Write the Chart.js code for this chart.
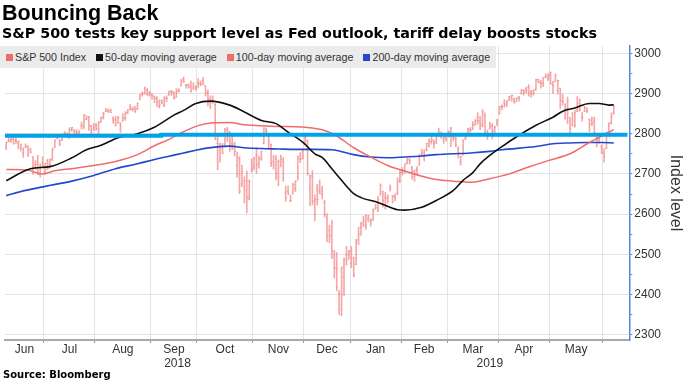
<!DOCTYPE html>
<html>
<head>
<meta charset="utf-8">
<script src="https://cdn.jsdelivr.net/npm/chart.js@4.4.1/dist/chart.umd.min.js"></script>
<style>
  html, body { margin: 0; padding: 0; background: #fff; }
  #wrap { position: relative; width: 683px; height: 384px; overflow: hidden; }
  #chart { position: absolute; left: 0; top: 0; }
  .title { position: absolute; left: 2px; top: 1px; font: bold 21.5px "Liberation Sans", sans-serif; color: #000; white-space: nowrap; }
  .sub { position: absolute; left: 2px; top: 25px; font: bold 14.3px "DejaVu Sans", sans-serif; color: #000; white-space: nowrap; }
  .src { position: absolute; left: 3px; top: 369px; font: bold 10px "DejaVu Sans", sans-serif; color: #000; white-space: nowrap; }
  #legend { position: absolute; left: 0; top: 46px; height: 22px; padding: 0 6px 0 6px; background: #ebebeb;
            display: flex; align-items: center; font: 10.7px "Liberation Sans", sans-serif; color: #333; }
  #legend .item { display: flex; align-items: center; margin-right: 10px; white-space: nowrap; }
  #legend .item:last-child { margin-right: 0; }
  #legend .sw { width: 7px; height: 7px; margin-right: 2px; }
</style>
</head>
<body>
<div id="wrap">
  <canvas id="chart" width="683" height="384"></canvas>
  <div class="title">Bouncing Back</div>
  <div class="sub">S&amp;P 500 tests key support level as Fed outlook, tariff delay boosts stocks</div>
  <div id="legend"></div>
  <div class="src">Source: Bloomberg</div>
</div>
<script>
// S&P 500 daily bars, 8 Jun 2018 .. 7 Jun 2019 (x = trading day number)
const spxOpen = [
  2765,2780,2785,2787,2783,2777,2765,2752,2769,2769,2760,2742,2723,2729,2698,2727,
  2705,2733,2724,2738,2765,2789,2779,2783,2797,2799,2789,2811,2809,2805,2799,2820,2817,2835,2843,2820,2809,
  2822,2801,2829,2840,2855,2856,2858,2838,2835,2827,2827,2831,2838,2853,2861,2860,2860,2862,2885,2901,2900,2908,2898,
  2897,2892,2888,2868,2882,2871,2888,2896,2906,2903,2891,2906,2919,2936,2921,2921,2917,2911,2910,
  2926,2924,2932,2919,2902,2877,2883,2873,2776,2775,2764,2767,2811,2802,2775,2774,2721,2737,2675,2667,2682,2640,2705,
  2718,2746,2726,2738,2775,2807,2795,2773,2731,2738,2693,2718,2731,2654,2657,2633,2650,2663,2692,2737,2737,
  2790,2782,2663,2692,2631,2664,2658,2658,2629,2591,2559,2548,2496,2465,2401,2364,2443,2499,2499,
  2477,2491,2475,2536,2568,2580,2573,2588,2581,2585,2614,2609,2651,2657,2643,2639,2658,2645,2644,2654,2685,
  2703,2706,2728,2735,2717,2693,2712,2722,2750,2744,2760,2770,2780,2781,2780,2805,2792,2787,2789,
  2798,2814,2794,2791,2763,2730,2747,2787,2800,2811,2810,2822,2840,2831,2819,2845,2796,2812,2820,2809,2828,
  2849,2868,2877,2874,2884,2889,2887,2881,2891,2901,2908,2912,2916,2904,2899,2910,2934,2928,2925,2941,2937,
  2952,2922,2929,2908,2913,2880,2859,2863,2840,2820,2820,2856,2858,2841,2855,2856,2836,2832,2830,2790,2786,2767,
  2752,2763,2819,2828,2852
];
const spxHigh = [
  2779,2790,2789,2791,2789,2782,2774,2765,2775,2770,2764,2743,2733,2746,2725,2743,
  2727,2737,2737,2764,2785,2795,2786,2799,2805,2802,2815,2816,2810,2810,2808,2829,2848,2845,2843,2821,2825,
  2825,2830,2841,2853,2863,2862,2862,2842,2843,2843,2827,2850,2855,2860,2873,2867,2868,2876,2898,2904,2916,2912,2906,
  2900,2894,2893,2884,2884,2892,2894,2906,2908,2904,2912,2912,2935,2941,2923,2924,2931,2927,2920,
  2937,2931,2940,2919,2909,2894,2894,2875,2795,2776,2776,2813,2816,2806,2797,2779,2754,2743,2722,2693,2707,2685,2737,
  2741,2766,2744,2757,2815,2814,2795,2775,2746,2746,2735,2747,2741,2670,2670,2647,2677,2683,2744,2753,2760,
  2800,2785,2697,2708,2648,2674,2685,2670,2635,2601,2573,2585,2510,2505,2410,2468,2490,2520,2510,
  2519,2493,2538,2567,2580,2595,2598,2597,2589,2613,2625,2645,2675,2657,2654,2648,2673,2647,2651,2690,2708,
  2716,2725,2738,2738,2719,2709,2718,2749,2761,2760,2776,2787,2794,2785,2793,2814,2804,2795,2793,
  2808,2816,2796,2791,2767,2744,2784,2798,2813,2816,2830,2835,2852,2843,2860,2852,2809,2829,2825,2819,2836,
  2868,2872,2885,2882,2893,2896,2888,2889,2893,2910,2909,2916,2922,2908,2909,2936,2936,2933,2940,2949,2949,
  2954,2931,2948,2933,2913,2898,2875,2891,2840,2853,2858,2892,2886,2853,2868,2865,2836,2841,2841,2791,2799,2772,
  2763,2804,2827,2852,2871
];
const spxLow = [
  2760,2780,2778,2774,2776,2762,2757,2741,2765,2743,2752,2699,2711,2698,2692,2718,
  2699,2711,2715,2733,2765,2787,2770,2783,2793,2794,2788,2806,2796,2796,2795,2811,2812,2835,2808,2799,2808,
  2808,2801,2828,2836,2855,2852,2852,2826,2819,2826,2803,2831,2833,2850,2859,2856,2853,2860,2885,2893,2898,2895,2893,
  2885,2877,2868,2864,2874,2867,2879,2896,2895,2886,2890,2903,2919,2927,2913,2913,2903,2911,2908,
  2914,2919,2921,2893,2869,2862,2875,2785,2710,2730,2750,2767,2781,2756,2760,2745,2691,2651,2668,2628,2603,2635,2705,
  2709,2701,2714,2734,2775,2795,2764,2718,2712,2685,2670,2718,2681,2632,2649,2631,2650,2656,2684,2728,2737,
  2774,2697,2621,2623,2583,2622,2650,2637,2593,2531,2529,2489,2441,2409,2351,2347,2398,2473,2488,
  2467,2444,2474,2524,2547,2569,2562,2581,2570,2585,2612,2606,2647,2617,2612,2628,2658,2627,2633,2648,2678,
  2697,2701,2725,2724,2687,2682,2697,2722,2748,2732,2757,2767,2774,2764,2775,2794,2789,2776,2782,
  2791,2768,2782,2768,2739,2722,2747,2786,2799,2804,2810,2821,2823,2810,2817,2800,2786,2812,2787,2799,2820,
  2849,2859,2865,2867,2882,2880,2876,2880,2881,2898,2896,2901,2893,2891,2896,2908,2926,2913,2917,2939,2932,
  2923,2900,2929,2898,2862,2871,2836,2825,2801,2820,2816,2855,2856,2831,2855,2852,2805,2820,2800,2767,2776,2750,
  2729,2763,2801,2823,2848
];
const spxClose = [
  2779,2782,2786,2775,2782,2780,2774,2763,2767,2749,2754,2717,2723,2699,2716,2718,
  2726,2713,2736,2760,2784,2793,2774,2798,2801,2798,2809,2815,2804,2802,2806,2821,2846,2838,2819,2803,2816,
  2813,2827,2840,2850,2858,2857,2853,2833,2821,2840,2819,2840,2850,2858,2863,2862,2856,2875,2897,2898,2914,2901,2902,
  2896,2888,2878,2872,2877,2887,2888,2904,2904,2889,2904,2907,2931,2930,2919,2916,2906,2914,2914,
  2924,2923,2926,2902,2886,2884,2881,2786,2728,2768,2751,2810,2809,2769,2768,2756,2741,2657,2706,2659,2641,2682,2712,
  2740,2723,2738,2756,2814,2806,2781,2726,2722,2702,2731,2736,2690,2641,2649,2633,2674,2682,2744,2738,2760,
  2790,2701,2696,2633,2637,2636,2651,2650,2600,2546,2546,2507,2467,2417,2351,2468,2489,2486,2507,
  2510,2448,2532,2550,2575,2585,2597,2596,2583,2610,2616,2636,2671,2633,2639,2642,2665,2644,2640,2681,2704,
  2707,2725,2738,2732,2706,2708,2709,2745,2753,2746,2776,2780,2785,2775,2793,2796,2794,2792,2784,
  2804,2792,2789,2771,2749,2743,2784,2792,2811,2808,2822,2833,2832,2824,2855,2801,2799,2818,2805,2816,2834,
  2867,2867,2873,2880,2893,2895,2878,2888,2888,2907,2906,2907,2900,2905,2908,2934,2927,2926,2940,2943,2946,
  2924,2918,2946,2932,2884,2880,2871,2881,2812,2834,2851,2876,2860,2840,2864,2857,2823,2826,2802,2784,2789,2752,
  2744,2804,2826,2843,2869
];

// moving averages (trading day, level)
const ma50Days = [0,10,18,27,33,39,46,54,61,69,73,78,84,92,98,105,111,116,122,127,130,134,138,143,146,153,161,164,171,177,184,188,192,195,199,204,211,218,225,229,234,240,244,248,250];
const ma50 = [2683,2713,2718,2740,2760,2771,2790,2800,2816,2846,2858,2875,2881,2871,2854,2833,2825,2804,2779,2750,2741,2713,2684,2651,2641,2629,2611,2610,2617,2634,2659,2684,2703,2725,2746,2768,2796,2821,2841,2856,2864,2875,2875,2871,2872];
const ma100Days = [0,8,15,20,27,36,45,54,61,67,73,79,85,92,98,105,112,119,126,130,135,143,150,157,164,170,177,184,191,199,207,215,223,232,240,246,250];
const ma100 = [2711,2710,2700,2708,2713,2721,2731,2748,2770,2786,2805,2820,2827,2828,2822,2820,2818,2817,2814,2810,2798,2765,2742,2721,2707,2696,2686,2682,2679,2688,2700,2717,2733,2750,2778,2797,2810];
const ma200Days = [0,8,16,27,36,45,54,61,67,73,78,85,92,98,105,112,119,126,134,137,143,150,157,164,170,177,184,191,199,204,218,225,232,239,245,250];
const ma200 = [2646,2659,2669,2682,2696,2713,2725,2736,2744,2752,2759,2766,2769,2765,2763,2762,2761,2761,2760,2757,2748,2742,2740,2742,2744,2748,2750,2752,2756,2760,2768,2775,2777,2778,2778,2777];

// hand-drawn support line
const supportDays = [-0.5, 63.8, 191.6, 255.6];
const supportLevel = [2792, 2795, 2797.5, 2797.5];

// axis ticks
const monthBounds = [15.5, 36.5, 59.5, 78.5, 101.5, 122.5, 141.5, 162.5, 181.5, 202.5, 223.5, 245.5];
const monthNames = ['Jun','Jul','Aug','Sep','Oct','Nov','Dec','Jan','Feb','Mar','Apr','May'];
const monthMids = [7.5, 26, 48, 69, 90, 112, 132, 152, 172, 192, 213, 234.5];
const yearNames = ['2018', '2019'];
const yearMids = [70.5, 199];
const yTickValues = [2300,2350,2400,2450,2500,2550,2600,2650,2700,2750,2800,2850,2900,2950,3000];

const seriesNames = ['S&P 500 Index', '50-day moving average', '100-day moving average', '200-day moving average'];
const legendColours = ['#f26b6b', '#111111', '#f26b6b', '#2448cc'];

const barCol = 'rgba(240, 110, 110, 0.6)';
const gridCol = '#e4e4e4';
const axisBlue = '#4d86e3';
const textCol = '#333333';

// html legend
const legendEl = document.getElementById('legend');
seriesNames.forEach((name, i) => {
    const item = document.createElement('div');
    item.className = 'item';
    item.innerHTML = `<span class="sw" style="background:${legendColours[i]}"></span><span></span>`;
    item.lastChild.textContent = name;
    legendEl.appendChild(item);
});

const xy = (xs, ys) => xs.map((x, i) => ({x: x, y: ys[i]}));
const days = spxClose.map((_, i) => i);

const xTicks = [];
monthBounds.forEach(v => xTicks.push({value: v, kind: 'bound', text: ''}));
monthMids.forEach((v, i) => xTicks.push({value: v, kind: 'month', text: monthNames[i]}));
yearMids.forEach((v, i) => xTicks.push({value: v, kind: 'year', text: ['', yearNames[i]]}));
xTicks.sort((a, b) => a.value - b.value);

Chart.defaults.font.family = '"Liberation Sans", sans-serif';
Chart.defaults.color = textCol;

const ctx = document.getElementById('chart').getContext('2d');
new Chart(ctx, {
    type: 'line',
    data: {
        datasets: [{
            type: 'bar',
            label: seriesNames[0],
            data: days.map(i => ({x: i, y: [spxLow[i], spxHigh[i]]})),
            backgroundColor: barCol,
            borderWidth: 0,
            barThickness: 1,
            order: 10
        }, {
            label: seriesNames[1],
            data: xy(ma50Days, ma50),
            borderColor: '#111111',
            borderWidth: 1.6,
            pointRadius: 0,
            cubicInterpolationMode: 'monotone',
            order: 2
        }, {
            label: seriesNames[2],
            data: xy(ma100Days, ma100),
            borderColor: '#f26b6b',
            borderWidth: 1.5,
            pointRadius: 0,
            cubicInterpolationMode: 'monotone',
            order: 3
        }, {
            label: seriesNames[3],
            data: xy(ma200Days, ma200),
            borderColor: '#2448cc',
            borderWidth: 1.6,
            pointRadius: 0,
            cubicInterpolationMode: 'monotone',
            order: 4
        }, {
            label: 'open',
            data: xy(days, spxOpen),
            showLine: false,
            pointStyle: 'dash',
            pointRotation: 180,
            pointRadius: 1.2,
            pointBorderWidth: 1,
            pointBorderColor: barCol,
            order: 9
        }, {
            label: 'close',
            data: xy(days, spxClose),
            showLine: false,
            pointStyle: 'dash',
            pointRadius: 1.2,
            pointBorderWidth: 1,
            pointBorderColor: barCol,
            order: 8
        }, {
            label: 'support',
            data: xy(supportDays, supportLevel),
            borderColor: '#00a2e8',
            borderWidth: 4,
            pointRadius: 0,
            stepped: 'after',
            order: 0
        }]
    },
    options: {
        responsive: false,
        animation: false,
        devicePixelRatio: 1,
        events: [],
        layout: { padding: { top: 46, left: 0, right: 0, bottom: 13 } },
        plugins: {
            legend: { display: false },
            tooltip: { enabled: false }
        },
        scales: {
            x: {
                type: 'linear',
                min: -0.5,
                max: 256.4,
                offset: false,
                afterBuildTicks: axis => { axis.ticks = xTicks.map(t => Object.assign({}, t)); },
                ticks: {
                    autoSkip: false,
                    maxRotation: 0,
                    minRotation: 0,
                    padding: 0,
                    color: textCol,
                    font: { size: 12, lineHeight: '14px' },
                    callback: (value, index, ticks) => ticks[index].text
                },
                grid: {
                    offset: false,
                    color: c => (c.tick && c.tick.kind === 'bound') ? gridCol : 'rgba(0,0,0,0)',
                    tickColor: c => (c.tick && c.tick.kind === 'bound') ? '#9a9a9a' : 'rgba(0,0,0,0)',
                    tickLength: 3
                },
                border: { color: '#a8a8a8', width: 2 }
            },
            y: {
                position: 'right',
                min: 2287,
                max: 3018,
                afterBuildTicks: axis => { axis.ticks = yTickValues.map(v => ({value: v})); },
                ticks: {
                    autoSkip: false,
                    padding: 2,
                    color: textCol,
                    font: { size: 12 },
                    callback: v => (v % 100 === 0 ? String(v) : '')
                },
                grid: {
                    color: c => (c.tick && c.tick.value % 100 === 0) ? gridCol : 'rgba(0,0,0,0)',
                    tickColor: axisBlue,
                    tickLength: 3
                },
                border: { color: axisBlue, width: 1.5 },
                title: {
                    display: true,
                    text: 'Index level',
                    color: textCol,
                    font: { size: 16, lineHeight: '16px' },
                    padding: { top: 0, bottom: 4 }
                }
            }
        }
    }
});
</script>
</body>
</html>
